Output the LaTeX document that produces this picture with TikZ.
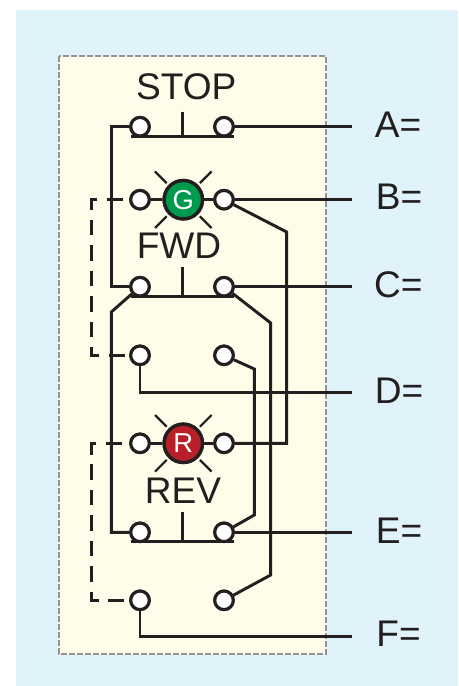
\documentclass[tikz,border=0pt]{standalone}
\usepackage{fontspec}
\setmainfont{Liberation Sans}
\definecolor{bgblue}{HTML}{E0F3FB}
\definecolor{panel}{HTML}{FFFCE9}
\definecolor{ink}{HTML}{231F20}
\definecolor{lampg}{HTML}{009A4E}
\definecolor{lampr}{HTML}{B81F28}
\tikzset{x=0.75pt,y=-0.75pt,
 wire/.style={draw=ink,line width=2.2pt,line join=miter},
 dashwire/.style={draw=ink,line width=2.2pt,dash pattern=on 11.8pt off 7.3pt},
 contact/.style={circle,draw=ink,fill=white,line width=2.3pt,minimum size=13.9pt,inner sep=0pt},
 lamp/.style={circle,draw=ink,line width=2.5pt,minimum size=28.8pt,inner sep=0pt,text=white,font=\fontsize{20.5}{20.5}\selectfont},
 ray/.style={draw=ink,line width=1.7pt},
 lbl/.style={text=ink,font=\fontsize{27.8}{27.8}\selectfont,inner sep=0pt},
 bar/.style={draw=ink,line width=2.3pt},
 stem/.style={draw=ink,line width=2.2pt}}
\begin{document}
\begin{tikzpicture}
\useasboundingbox (0,0) rectangle (458,686);
\fill[bgblue] (16,10) rectangle (458,686);
\fill[panel] (59,56) rectangle (326,654);
\draw[gray!85,line width=0.8pt,dash pattern=on 4.5pt off 1.5pt] (59,56) rectangle (326,654);
% contacts
\node[contact] (a1) at (140,126.7) {};
\node[contact] (a2) at (224,126.7) {};
\node[contact] (b1) at (140,199.7) {};
\node[contact] (b2) at (224,199.7) {};
\node[contact] (c1) at (140,286.7) {};
\node[contact] (c2) at (224,286.7) {};
\node[contact] (d1) at (140,355.3) {};
\node[contact] (d2) at (224,355.3) {};
\node[contact] (r1) at (140,443.3) {};
\node[contact] (r2) at (224,443.3) {};
\node[contact] (e1) at (140,532.3) {};
\node[contact] (e2) at (224,532.3) {};
\node[contact] (f1) at (140,600.3) {};
\node[contact] (f2) at (224,600.3) {};
% lamps
\node[lamp,fill=lampg] (g) at (183.3,199.7) {G};
\node[lamp,fill=lampr] (r) at (183.3,443.3) {R};
\foreach \l in {g,r}{
 \foreach \a in {45,135,225,315}{
  \draw[ray] (\l) ++(\a:23.5) -- ++(\a:16.5);
 }}
% free ends
\coordinate (ta) at (351.5,126.7);
\coordinate (tb) at (351.5,199.7);
\coordinate (tc) at (351.5,286.7);
\coordinate (td) at (351.5,392.5);
\coordinate (te) at (351.5,532.3);
\coordinate (tf) at (351.5,636.7);
\coordinate (ds1) at (122.7,199.7);
\coordinate (ds2) at (121.7,443.3);
% wires
\draw[wire] (b1) -- (g) -- (b2);
\draw[wire] (r1) -- (r) -- (r2);
\draw[wire] (a2) -- (ta);
\draw[wire] (b2) -- (tb);
\draw[wire] (c2) -- (tc);
\draw[wire] (e2) -- (te);
\draw[wire] (a1) -| (111.3,286.7) -- (c1);
\draw[wire] (c1) -- (111.3,312) -- (111.3,532.3) -- (e1);
\draw[wire] (b2) -- (286.7,232) -- (286.7,443.3) -- (r2);
\draw[wire] (c2) -- (270.7,323) -- (270.7,575) -- (f2);
\draw[wire] (d2) -- (254.3,369) -- (254.3,515) -- (e2);
\draw[wire] (d1) |- (td);
\draw[wire] (f1) |- (tf);
\draw[dashwire] (ds1) -- (91.7,199.7) -- (91.7,355.3) -- (d1);
\draw[dashwire] (ds2) -- (91.7,443.3) -- (91.7,600.3) -- (f1);
% contact faces above wires
\foreach \n in {a1,a2,b1,b2,c1,c2,d1,d2,r1,r2,e1,e2,f1,f2}{
 \path (\n) node[contact] {};
}
\node[lamp,fill=lampg] at (g) {G};
\node[lamp,fill=lampr] at (r) {R};
% buttons
\draw[bar] (131,136.3) -- (234,136.3);
\draw[stem] (182.3,111.5) -- (182.3,136.3);
\draw[bar] (131,296.3) -- (234,296.3);
\draw[stem] (182.3,266.7) -- (182.3,296.3);
\draw[bar] (131,541.3) -- (234,541.3);
\draw[stem] (182.3,511.7) -- (182.3,541.3);
% labels
\node[lbl] (stop) at (186.3,87) {STOP};
\node[lbl] (fwd) at (179,246) {FWD};
\node[lbl] (rev) at (183,490.5) {REV};
\node[lbl] (la) at (398,124.5) {A=};
\node[lbl] (lb) at (399,197) {B=};
\node[lbl] (lc) at (398.3,285) {C=};
\node[lbl] (ld) at (399,390.5) {D=};
\node[lbl] (le) at (399,531) {E=};
\node[lbl] (lf) at (398.5,634.2) {F=};
\end{tikzpicture}
\end{document}
